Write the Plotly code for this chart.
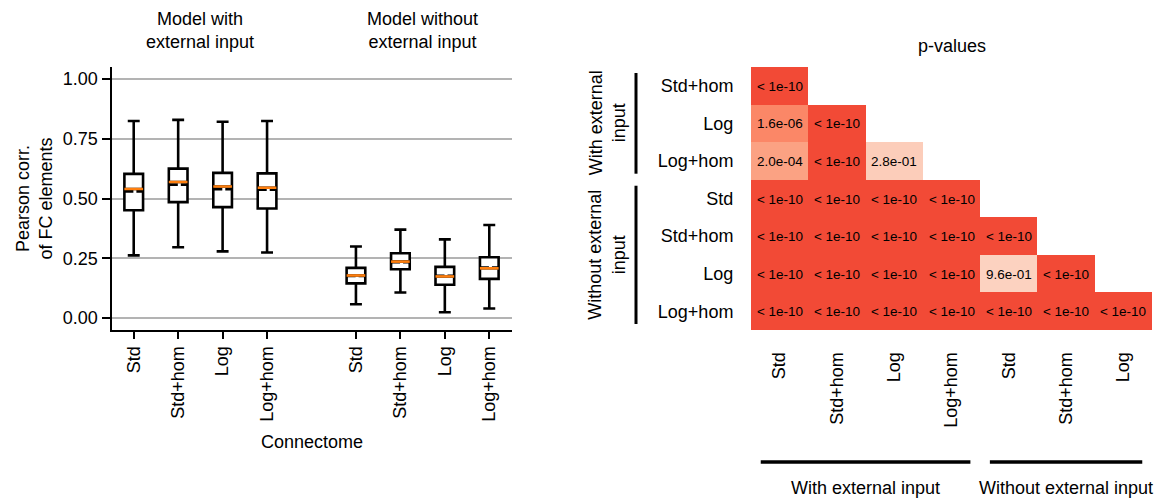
import math
import plotly.graph_objects as go

# ---------------- box plot data (Pearson corr. of FC elements) ----------------
box_labels = ["Std", "Std+hom", "Log", "Log+hom", "Std", "Std+hom", "Log", "Log+hom"]
box_positions = [1, 2, 3, 4, 6, 7, 8, 9]
whisker_low = [0.262, 0.296, 0.279, 0.274, 0.058, 0.107, 0.024, 0.040]
q1_vals = [0.451, 0.485, 0.464, 0.458, 0.145, 0.204, 0.139, 0.164]
median_vals = [0.540, 0.569, 0.550, 0.545, 0.178, 0.236, 0.174, 0.208]
mean_vals = [0.530, 0.558, 0.539, 0.537, 0.176, 0.234, 0.177, 0.211]
q3_vals = [0.603, 0.625, 0.607, 0.605, 0.210, 0.271, 0.214, 0.254]
whisker_high = [0.824, 0.829, 0.821, 0.824, 0.299, 0.370, 0.329, 0.389]
y_ticks = [0.0, 0.25, 0.5, 0.75, 1.0]

# ---------------- p-value matrix (lower triangle) ----------------
row_labels = ["Std+hom", "Log", "Log+hom", "Std", "Std+hom", "Log", "Log+hom"]
col_labels = ["Std", "Std+hom", "Log", "Log+hom", "Std", "Std+hom", "Log"]
P_FLOOR = 1e-10
p_values = [
    [1e-10, None, None, None, None, None, None],
    [1.6e-06, 1e-10, None, None, None, None, None],
    [2.0e-04, 1e-10, 2.8e-01, None, None, None, None],
    [1e-10, 1e-10, 1e-10, 1e-10, None, None, None],
    [1e-10, 1e-10, 1e-10, 1e-10, 1e-10, None, None],
    [1e-10, 1e-10, 1e-10, 1e-10, 9.6e-01, 1e-10, None],
    [1e-10, 1e-10, 1e-10, 1e-10, 1e-10, 1e-10, 1e-10],
]

FONT = "Liberation Sans, Arial, Helvetica, sans-serif"
BOX_W = 0.42
LW = 2.6

fig = go.Figure()

# boxes with whiskers
for i, pos in enumerate(box_positions):
    fig.add_trace(go.Box(
        x=[pos], q1=[q1_vals[i]], median=[median_vals[i]], q3=[q3_vals[i]],
        lowerfence=[whisker_low[i]], upperfence=[whisker_high[i]],
        width=BOX_W, whiskerwidth=0.64,
        line=dict(color="black", width=LW), fillcolor="white",
        boxpoints=False, showlegend=False, hoverinfo="skip",
        xaxis="x", yaxis="y",
    ))

# dashed mean lines and orange median lines
for i, pos in enumerate(box_positions):
    fig.add_trace(go.Scatter(
        x=[pos - BOX_W / 2, pos + BOX_W / 2], y=[mean_vals[i], mean_vals[i]],
        mode="lines", line=dict(color="black", width=LW, dash="9px,3px"),
        showlegend=False, hoverinfo="skip", xaxis="x", yaxis="y",
    ))
for i, pos in enumerate(box_positions):
    fig.add_trace(go.Scatter(
        x=[pos - BOX_W / 2, pos + BOX_W / 2], y=[median_vals[i], median_vals[i]],
        mode="lines", line=dict(color="#ff7f0e", width=LW),
        showlegend=False, hoverinfo="skip", xaxis="x", yaxis="y",
    ))

# heatmap of p-values
z_vals = [[None if p is None else -math.log10(max(p, P_FLOOR)) for p in row] for row in p_values]
cell_text = [["" if p is None else ("< 1e-10" if p <= P_FLOOR else f"{p:.1e}") for p in row]
             for row in p_values]
fig.add_trace(go.Heatmap(
    z=z_vals, x=list(range(len(col_labels))), y=list(range(len(row_labels))),
    text=cell_text, texttemplate="%{text}",
    textfont=dict(family=FONT, size=13.5, color="black"),
    zmin=0, zmax=10, showscale=False, hoverinfo="skip",
    colorscale=[[0.0, "#fcd2c0"], [0.06, "#fccdb9"], [0.37, "#fba283"],
                [0.58, "#fb8767"], [1.0, "#f24a36"]],
    xaxis="x2", yaxis="y2",
))

W, H = 1161, 499
y_dom = [1 - 330 / H, 1 - 67 / H]

fig.update_layout(
    width=W, height=H,
    margin=dict(l=0, r=0, t=0, b=0),
    paper_bgcolor="white", plot_bgcolor="white",
    font=dict(family=FONT, size=18, color="black"),
    showlegend=False,
    xaxis=dict(
        domain=[111.5 / W, 511.5 / W], range=[0.5, 9.5], anchor="y",
        tickvals=box_positions, ticktext=box_labels, tickangle=-90,
        ticks="outside", ticklen=7, tickwidth=2, tickcolor="black",
        showline=True, linecolor="black", linewidth=2,
        showgrid=False, zeroline=False, tickfont=dict(size=18),
    ),
    yaxis=dict(
        domain=y_dom, range=[-0.05, 1.05], anchor="x",
        tickvals=y_ticks, ticktext=[f"{v:.2f}" for v in y_ticks],
        ticks="outside", ticklen=8, tickwidth=2, tickcolor="black",
        showline=True, linecolor="black", linewidth=2,
        showgrid=True, gridcolor="#b3b3b3", gridwidth=1.6,
        zeroline=False, tickfont=dict(size=18),
    ),
    xaxis2=dict(
        domain=[751 / W, 1152 / W], range=[-0.5, 6.5], anchor="y2",
        tickvals=list(range(len(col_labels))), ticktext=col_labels, tickangle=-90,
        ticks="outside", ticklen=14, tickcolor="rgba(0,0,0,0)",
        showline=False, showgrid=False, zeroline=False, tickfont=dict(size=18),
    ),
    yaxis2=dict(
        domain=y_dom, range=[6.5, -0.5], anchor="x2",
        tickvals=list(range(len(row_labels))), ticktext=row_labels,
        ticks="outside", ticklen=13, tickcolor="rgba(0,0,0,0)",
        showline=False, showgrid=False, zeroline=False, tickfont=dict(size=18),
    ),
)

ann = []


def label(text, x, y, xref, yref, angle=0):
    ann.append(dict(text=text, x=x, y=y, xref=xref, yref=yref, textangle=angle,
                    xanchor="center", yanchor="middle", showarrow=False,
                    font=dict(size=18)))


# group titles above the box plot and axis titles
label("Model with<br>external input", 2.5, 1 - 30.5 / H, "x", "paper")
label("Model without<br>external input", 7.5, 1 - 30.5 / H, "x", "paper")
label("Pearson corr.<br>of FC elements", 34 / W, sum(y_dom) / 2, "paper", "paper", -90)
label("Connectome", 5, 1 - 442 / H, "x", "paper")
label("p-values", 3, 1 - 46 / H, "x2", "paper")

# group brackets around the p-value matrix
inset = 0.16
shapes = []
bx = 636 / W
for (r0, r1, text) in [(0, 2, "With external<br>input"), (3, 6, "Without external<br>input")]:
    shapes.append(dict(type="line", xref="paper", yref="y2", x0=bx, x1=bx,
                       y0=r0 - 0.5 + inset, y1=r1 + 0.5 - inset,
                       line=dict(color="black", width=3)))
    label(text, 607 / W, (r0 + r1) / 2, "paper", "y2", -90)

by = 1 - 462 / H
for (c0, c1, text) in [(0, 3, "With external input"), (4, 6, "Without external input")]:
    shapes.append(dict(type="line", xref="x2", yref="paper",
                       x0=c0 - 0.5 + 0.17, x1=c1 + 0.5 - 0.17, y0=by, y1=by,
                       line=dict(color="black", width=3.5)))
    label(text, (c0 + c1) / 2, 1 - 488 / H, "x2", "paper")

fig.update_layout(annotations=ann, shapes=shapes)

fig.write_html("out.html")
